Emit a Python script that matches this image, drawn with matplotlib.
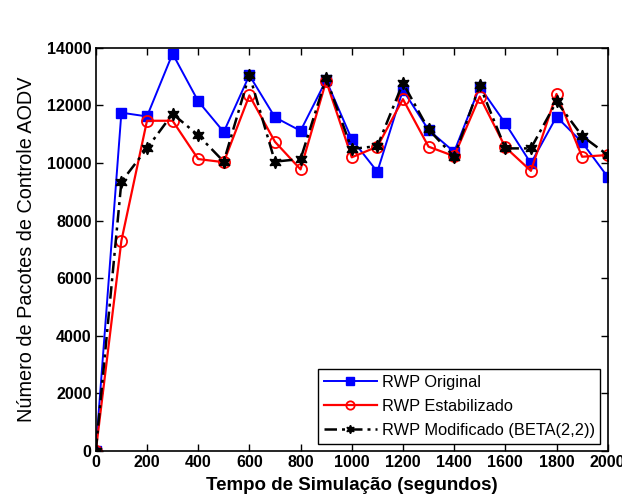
import matplotlib
matplotlib.use("Agg")
import matplotlib.pyplot as plt
import numpy as np

tempo = [0, 100, 200, 300, 400, 500, 600, 700, 800, 900, 1000,
         1100, 1200, 1300, 1400, 1500, 1600, 1700, 1800, 1900, 2000]
rwp_original = [0, 11750, 11620, 13800, 12150, 11080, 13050, 11590, 11120, 12880, 10830,
                9700, 12540, 11150, 10390, 12650, 11380, 9990, 11610, 10720, 9520]
rwp_estabilizado = [0, 7300, 11470, 11470, 10140, 10030, 12350, 10740, 9780, 12850, 10200,
                    10570, 12220, 10570, 10240, 12310, 10550, 9730, 12400, 10220, 10280]
rwp_modificado = [0, 9350, 10510, 11710, 10970, 10050, 13070, 10050, 10140, 12950, 10490,
                  10590, 12780, 11170, 10220, 12700, 10510, 10510, 12140, 10940, 10280]

plt.rcParams.update({
    "font.family": ["Liberation Sans", "DejaVu Sans"],
    "font.size": 12,
})

fig = plt.figure(figsize=(6.22, 4.97), dpi=100)
ax = fig.add_axes([0.154, 0.0926, 0.823, 0.811])

ax.plot(tempo, rwp_original, color="#0000ff", linewidth=1.4, marker="s",
        markersize=7.5, markerfacecolor="#0000ff", markeredgecolor="#0000ff",
        label="RWP Original")
ax.plot(tempo, rwp_estabilizado, color="#ff0000", linewidth=1.6, marker="o",
        markersize=8, markerfacecolor="none", markeredgecolor="#ff0000",
        markeredgewidth=1.3, label="RWP Estabilizado")
ax.plot(tempo, rwp_modificado, color="black", linewidth=1.8, linestyle=(0, (5, 2, 1.2, 2)),
        marker=(6, 1, 0), markersize=9, markerfacecolor="black",
        markeredgecolor="black", label="RWP Modificado (BETA(2,2))")

ax.set_xlim(0, 2000)
ax.set_ylim(0, 14000)
ax.set_xticks(np.arange(0, 2001, 200))
ax.set_yticks(np.arange(0, 14001, 2000))
ax.tick_params(direction="in", top=True, right=True, length=5, width=1, labelsize=11.5, pad=3)
for lab in ax.get_xticklabels() + ax.get_yticklabels():
    lab.set_fontweight("bold")
for sp in ax.spines.values():
    sp.set_linewidth(1.2)

ax.set_xlabel("Tempo de Simulação (segundos)", fontsize=13.5, fontweight="bold", labelpad=5)
ax.set_ylabel("Número de Pacotes de Controle AODV", fontsize=14.3, labelpad=8)

leg = ax.legend(loc="lower right", fontsize=11.8, fancybox=False, framealpha=1,
                edgecolor="black", borderpad=0.35, handlelength=3.2, labelspacing=0.55,
                handletextpad=0.3, borderaxespad=0.45)
leg.get_frame().set_linewidth(1.0)
for h in leg.legend_handles:
    h.set_markersize(6)

fig.savefig("out.png", dpi=100)
